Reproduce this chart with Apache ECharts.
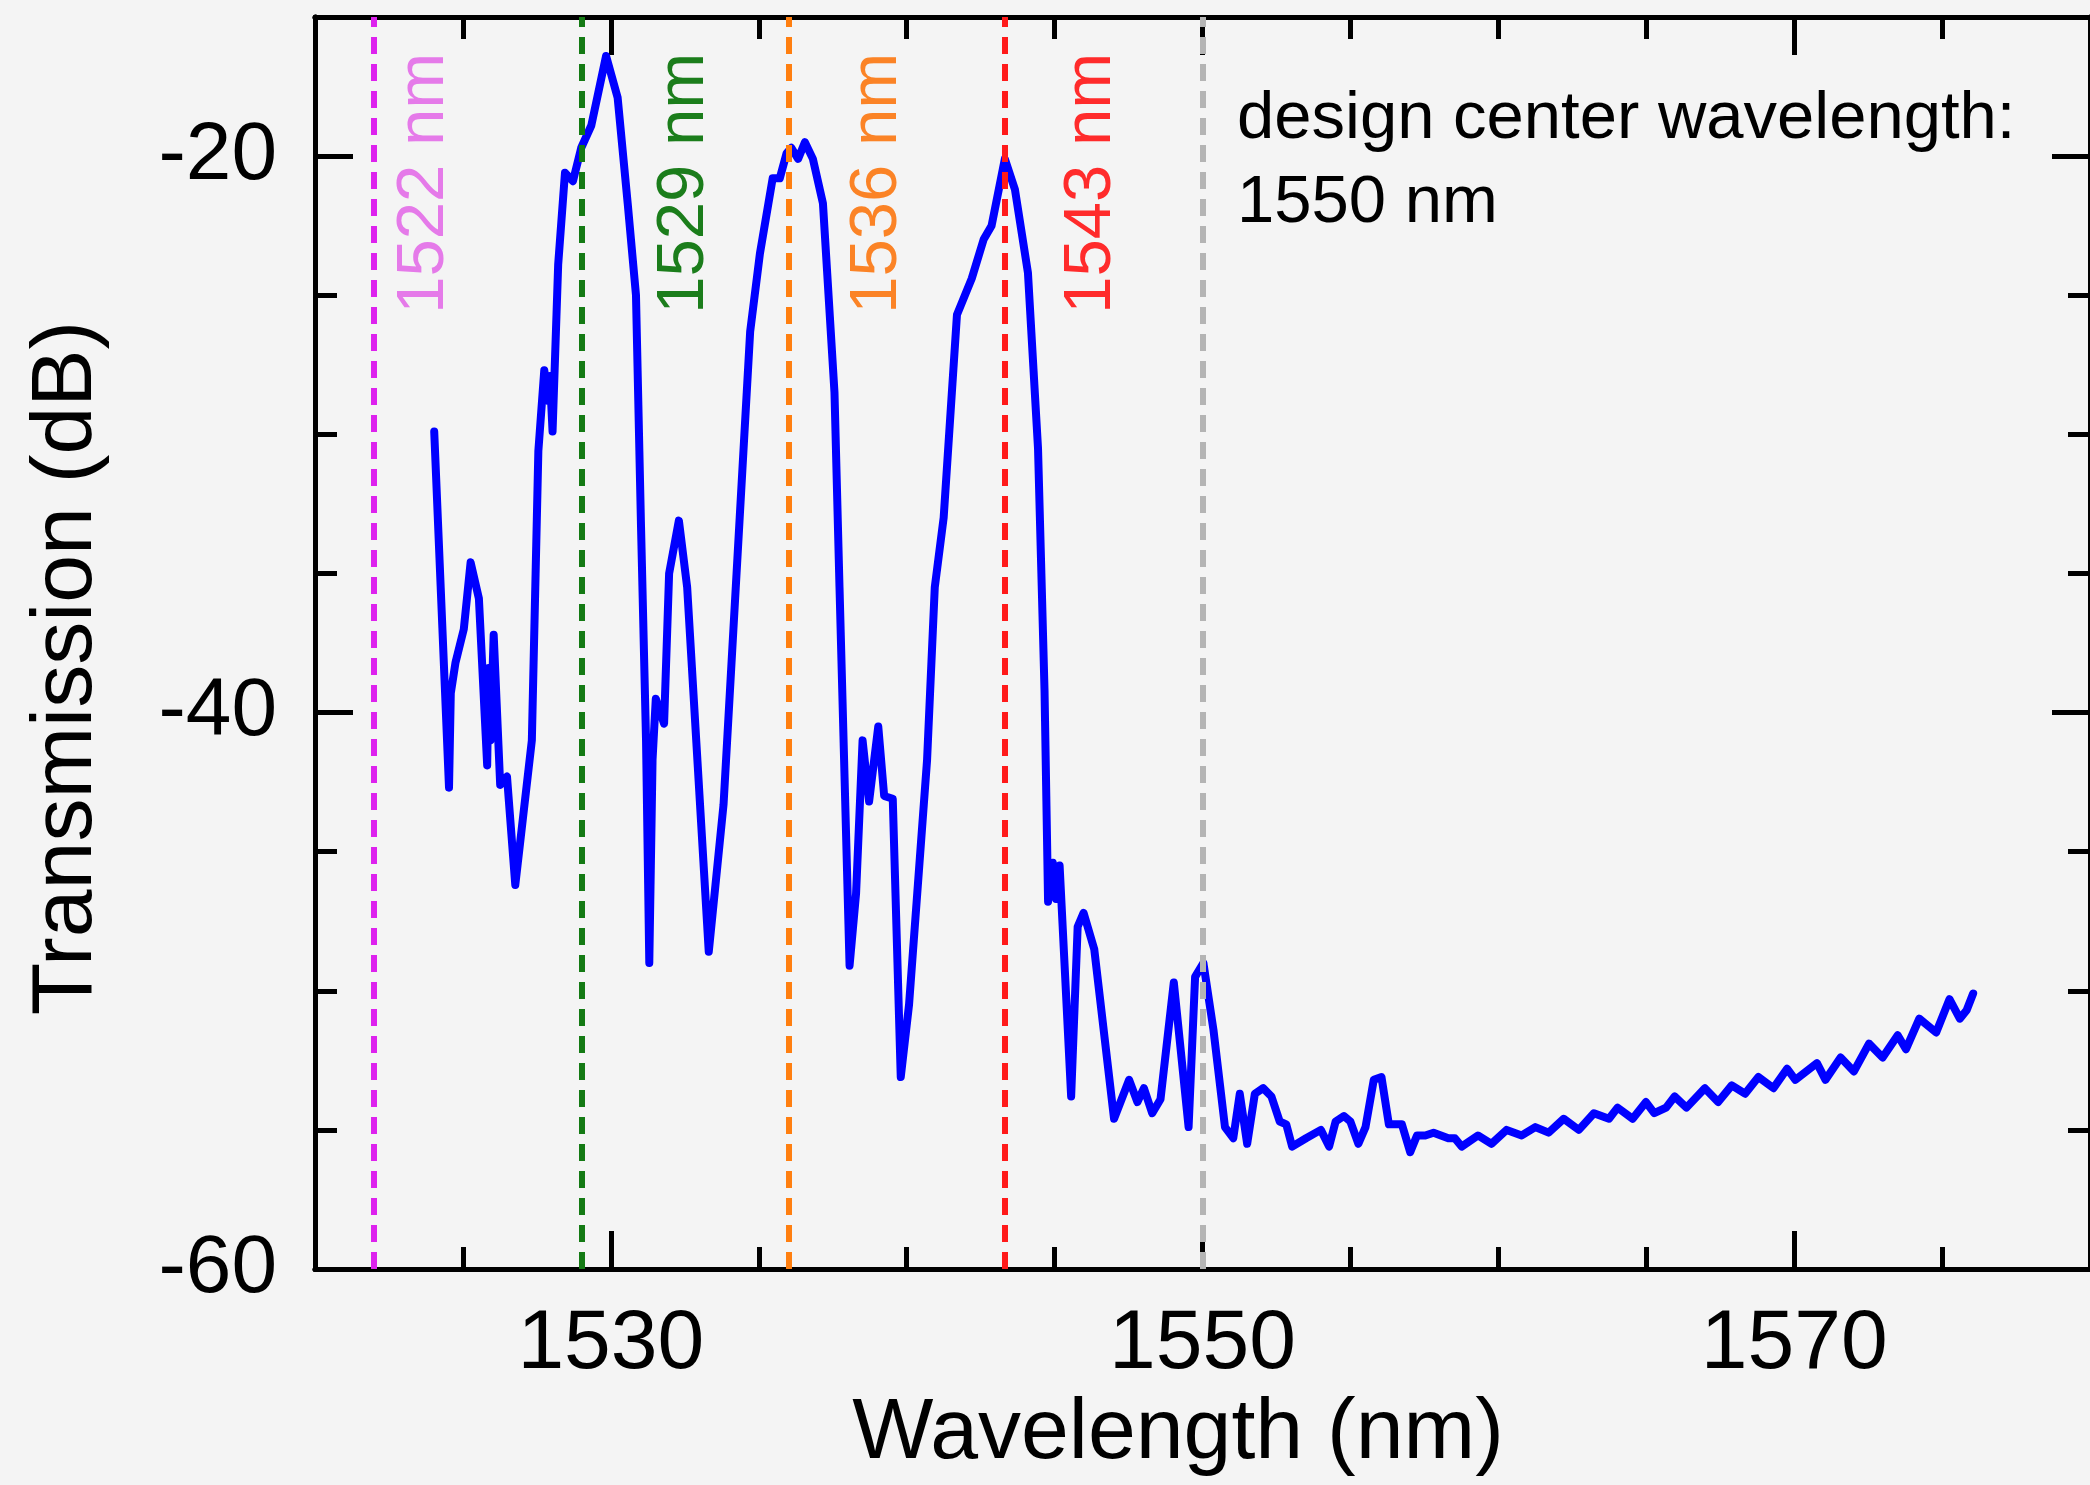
<!DOCTYPE html>
<html>
<head>
<meta charset="utf-8">
<script src="https://cdn.jsdelivr.net/npm/echarts@6/dist/echarts.min.js"></script>
<style>
  html, body { margin: 0; padding: 0; background: #f4f4f4; }
  #chart { width: 2090px; height: 1485px; }
</style>
</head>
<body>
<div id="chart"></div>
<script>
const wavelength = [
  1524.03, 1524.53, 1524.59, 1524.75, 1525.03, 1525.26, 1525.54, 1525.82, 1525.87, 1525.93,
  1526.04, 1526.26, 1526.49, 1526.77, 1527.33, 1527.55, 1527.75, 1527.89, 1527.94, 1528.03,
  1528.22, 1528.45, 1528.72, 1529.00, 1529.34, 1529.84, 1530.23, 1530.57, 1530.85, 1531.02,
  1531.19, 1531.30, 1531.41, 1531.52, 1531.80, 1531.97, 1532.30, 1532.58, 1533.31, 1533.81,
  1534.26, 1534.71, 1535.04, 1535.47, 1535.71, 1535.94, 1536.10, 1536.33, 1536.56, 1536.83,
  1537.17, 1537.56, 1537.73, 1538.07, 1538.29, 1538.51, 1538.73, 1539.04, 1539.24, 1539.53,
  1539.80, 1540.08, 1540.69, 1540.95, 1541.25, 1541.70, 1542.20, 1542.60, 1542.87, 1543.32,
  1543.66, 1544.10, 1544.44, 1544.66, 1544.78, 1544.94, 1545.05, 1545.17, 1545.56, 1545.78,
  1545.98, 1546.34, 1547.01, 1547.52, 1547.80, 1548.02, 1548.30, 1548.58, 1549.03, 1549.53,
  1549.75, 1550.03, 1550.37, 1550.76, 1551.04, 1551.26, 1551.51, 1551.77, 1552.05, 1552.33,
  1552.61, 1552.83, 1553.03, 1553.50, 1554.00, 1554.28, 1554.50, 1554.78, 1555.00, 1555.27,
  1555.51, 1555.79, 1556.05, 1556.30, 1556.74, 1557.02, 1557.25, 1557.53, 1557.81, 1558.31,
  1558.53, 1558.76, 1559.31, 1559.77, 1560.28, 1560.79, 1561.25, 1561.70, 1562.21, 1562.72,
  1563.23, 1563.74, 1564.03, 1564.54, 1564.99, 1565.27, 1565.67, 1565.96, 1566.36, 1566.98,
  1567.43, 1567.89, 1568.34, 1568.79, 1569.30, 1569.76, 1570.04, 1570.77, 1571.06, 1571.57,
  1572.02, 1572.53, 1572.99, 1573.50, 1573.78, 1574.23, 1574.80, 1575.25, 1575.60, 1575.83,
  1576.05
];
const transmission = [
  -29.9, -42.7, -39.3, -38.2, -37.0, -34.6, -35.9, -41.9, -38.4, -41.0,
  -37.2, -42.6, -42.3, -46.2, -41.0, -30.6, -27.7, -28.8, -27.9, -29.9,
  -23.9, -20.6, -20.9, -19.7, -18.9, -16.4, -17.9, -21.7, -25.0, -33.3,
  -41.0, -49.0, -41.7, -39.5, -40.4, -35.0, -33.1, -35.5, -48.6, -43.3,
  -34.8, -26.3, -23.5, -20.8, -20.8, -19.9, -19.7, -20.1, -19.5, -20.1,
  -21.7, -28.5, -35.5, -49.1, -46.5, -41.0, -43.2, -40.5, -43.0, -43.1,
  -53.1, -50.5, -41.7, -35.5, -33.0, -25.7, -24.4, -23.0, -22.5, -20.1,
  -21.2, -24.2, -30.5, -39.2, -46.8, -45.4, -46.7, -45.5, -53.8, -47.7,
  -47.2, -48.5, -54.6, -53.2, -54.0, -53.5, -54.4, -53.9, -49.7, -54.9,
  -49.5, -49.0, -51.4, -54.9, -55.3, -53.7, -55.5, -53.7, -53.5, -53.8,
  -54.7, -54.8, -55.6, -55.3, -55.0, -55.6, -54.7, -54.5, -54.7, -55.5,
  -54.9, -53.2, -53.1, -54.8, -54.8, -55.8, -55.2, -55.2, -55.1, -55.3,
  -55.3, -55.6, -55.2, -55.5, -55.0, -55.2, -54.9, -55.1, -54.6, -55.0,
  -54.4, -54.6, -54.2, -54.6, -54.0, -54.4, -54.2, -53.8, -54.2, -53.5,
  -54.0, -53.4, -53.7, -53.1, -53.5, -52.8, -53.2, -52.6, -53.2, -52.4,
  -52.9, -51.9, -52.4, -51.6, -52.1, -51.0, -51.5, -50.3, -51.0, -50.7,
  -50.1
];

// dashed reference wavelengths
const markerNm = [1522, 1529, 1536, 1543.3, 1550];
const markerLabels = ['1522 nm', '1529 nm', '1536 nm', '1543 nm', ''];

// tick labels
const xMajorTicks = [1530, 1550, 1570];
const yMajorTicks = [-60, -40, -20];

const FONT = '"Liberation Sans", Arial, sans-serif';
const lineColors = ['#dd22ee', '#147a14', '#ff7f10', '#ff1a1a', '#b4b4b4'];
const textColors = ['#e57ae9', '#1b7d1b', '#fb8326', '#ff2b2b', '#b4b4b4'];
const labelGap = [17, 70, 56, 54, 0];

const axisLine = { show: true, onZero: false, lineStyle: { color: '#000', width: 5 } };
const plain = v => String(v);

function makeX(position, major) {
  return {
    type: 'value', position: position, min: 1520, max: 1580, interval: 5,
    axisLine: axisLine,
    axisTick: major
      ? { inside: true, length: 38, lineStyle: { color: '#000', width: 5 }, customValues: xMajorTicks }
      : { inside: true, length: 22, lineStyle: { color: '#000', width: 5 } },
    axisLabel: (position === 'bottom' && !major)
      ? { customValues: xMajorTicks, formatter: plain, fontSize: 84, fontFamily: FONT, color: '#000', margin: 34 }
      : { show: false },
    splitLine: { show: false }
  };
}

function makeY(position, major) {
  return {
    type: 'value', position: position, min: -60, max: -15, interval: 5,
    axisLine: axisLine,
    axisTick: major
      ? { inside: true, length: 38, lineStyle: { color: '#000', width: 5 }, customValues: yMajorTicks }
      : { inside: true, length: 22, lineStyle: { color: '#000', width: 5 } },
    axisLabel: (position === 'left' && !major)
      ? { customValues: yMajorTicks, formatter: plain, fontSize: 82, fontFamily: FONT, color: '#000', margin: 38 }
      : { show: false },
    splitLine: { show: false }
  };
}

const chart = echarts.init(document.getElementById('chart'));

const option = {
  animation: false,
  backgroundColor: '#f4f4f4',
  grid: { left: 315, top: 17, width: 1788, height: 1252, containLabel: false },
  xAxis: [makeX('bottom', false), makeX('bottom', true), makeX('top', false), makeX('top', true)],
  yAxis: [makeY('left', false), makeY('left', true), makeY('right', false), makeY('right', true)],
  graphic: [
    {
      type: 'text', x: 1178, y: 1434,
      style: { text: 'Wavelength (nm)', font: '86px ' + FONT, fill: '#000',
        textAlign: 'center', textVerticalAlign: 'middle', align: 'center', verticalAlign: 'middle' }
    },
    {
      type: 'text', x: 67, y: 668, rotation: Math.PI / 2,
      style: { text: 'Transmission (dB)', font: '86px ' + FONT, fill: '#000',
        textAlign: 'center', textVerticalAlign: 'middle', align: 'center', verticalAlign: 'middle' }
    },
    {
      type: 'text', x: 1237, y: 78,
      style: { text: 'design center wavelength:\n1550 nm', font: '67px ' + FONT, fill: '#000',
        lineHeight: 84, textAlign: 'left', textVerticalAlign: 'top', align: 'left', verticalAlign: 'top' }
    }
  ],
  series: [{
    type: 'line',
    xAxisIndex: 0,
    yAxisIndex: 0,
    data: wavelength.map((w, i) => [w, transmission[i]]),
    symbol: 'none',
    showSymbol: false,
    lineStyle: { color: '#0000ff', width: 8, join: 'round', cap: 'round' },
    markLine: {
      silent: true,
      animation: false,
      symbol: ['none', 'none'],
      data: markerNm.map((v, i) => ({
        xAxis: v,
        name: markerLabels[i],
        lineStyle: { color: lineColors[i], width: 6, type: [17, 10] },
        label: {
          show: markerLabels[i] !== '',
          formatter: '{b}',
          position: 'insideEndBottom',
          distance: [36, labelGap[i]],
          color: textColors[i],
          fontSize: 67,
          fontFamily: FONT
        }
      }))
    }
  }]
};

chart.setOption(option);
</script>
</body>
</html>
